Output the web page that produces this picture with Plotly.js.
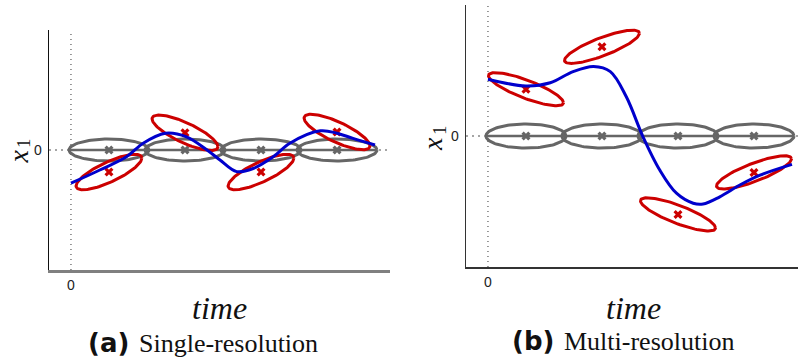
<!DOCTYPE html>
<html>
<head>
<meta charset="utf-8">
<script src="https://cdn.plot.ly/plotly-3.0.1.min.js"></script>
<style>
  html, body { margin: 0; padding: 0; background: #ffffff; }
  #chart { width: 799px; height: 361px; }
</style>
</head>
<body>
<div id="chart"></div>
<script>
// ---- (a) single-resolution model ----
const timeA = [0, 0.38, 0.73, 0.95, 1.24, 1.52, 1.79, 1.96, 2.18, 2.40, 2.66, 2.88, 3.28, 3.50, 3.71, 4.00];
const trajA = [-0.83, -0.50, -0.17, 0.17, 0.42, 0.33, 0.00, -0.25, -0.54, -0.46, -0.17, 0.17, 0.48, 0.42, 0.29, 0.125];

const muTimeA = [0.5, 1.5, 2.5, 3.5];
const priorMuA = [0, 0, 0, 0];
const priorSdTimeA = [0.526, 0.526, 0.526, 0.526];
const priorSdXA = [0.275, 0.275, 0.275, 0.275];
const postMuA = [-0.55, 0.43, -0.55, 0.45];
const postSdTimeA = [0.433, 0.433, 0.433, 0.433];
const postSdXA = [0.443, 0.443, 0.443, 0.443];
const postRhoA = [0.787, -0.787, 0.787, -0.787];

// ---- (b) multi-resolution model ----
const timeB = [0, 0.50, 0.82, 1.12, 1.39, 1.61, 1.82, 2.04, 2.26, 2.48, 2.70, 2.83, 3.05, 3.32, 3.58, 4.00];
const trajB = [1.42, 1.25, 1.33, 1.61, 1.74, 1.61, 0.98, -0.02, -0.85, -1.43, -1.68, -1.70, -1.52, -1.22, -0.98, -0.71];

const muTimeB = [0.5, 1.5, 2.5, 3.5];
const priorMuB = [0, 0, 0, 0];
const priorSdTimeB = [0.526, 0.526, 0.526, 0.526];
const priorSdXB = [0.30, 0.30, 0.30, 0.30];
const postMuB = [1.17, 2.23, -1.96, -0.91];
const postSdTimeB = [0.493, 0.493, 0.493, 0.493];
const postSdXB = [0.415, 0.415, 0.415, 0.415];
const postRhoB = [-0.815, 0.815, -0.815, 0.815];

// the single labelled tick on each axis
const tickVal = 0;
const tickLabel = '0';

const GRAY = '#666666';
const RED = '#cc0000';
const BLUE = '#0000cc';

// one-sigma contour of a 2-D Gaussian, traced through its Cholesky factor
function contour(mt, mx, st, sx, rho) {
  const t = [], x = [];
  const n = 120;
  for (let i = 0; i <= n; i++) {
    const a = 2 * Math.PI * i / n;
    const u = Math.cos(a), v = Math.sin(a);
    t.push(mt + st * u);
    x.push(mx + sx * (rho * u + Math.sqrt(1 - rho * rho) * v));
  }
  return { t, x };
}

function gaussianSet(mt, mx, st, sx, rho, color, xa, ya) {
  const t = [], x = [];
  mt.forEach((m, i) => {
    const c = contour(m, mx[i], st[i], sx[i], rho ? rho[i] : 0);
    t.push(...c.t, null);
    x.push(...c.x, null);
  });
  return {
    type: 'scatter', mode: 'lines', x: t, y: x, xaxis: xa, yaxis: ya,
    line: { color: color, width: 3 }, hoverinfo: 'skip', showlegend: false
  };
}

function majorAxes(mt, mx, st, color, xa, ya) {
  const t = [], x = [];
  mt.forEach((m, i) => { t.push(m - st[i], m + st[i], null); x.push(mx[i], mx[i], null); });
  return {
    type: 'scatter', mode: 'lines', x: t, y: x, xaxis: xa, yaxis: ya,
    line: { color: color, width: 2.6 }, hoverinfo: 'skip', showlegend: false
  };
}

function centres(mt, mx, color, xa, ya) {
  return {
    type: 'scatter', mode: 'markers', x: mt, y: mx, xaxis: xa, yaxis: ya,
    marker: { symbol: 'x', size: 8, color: color, line: { width: 0 } },
    hoverinfo: 'skip', showlegend: false
  };
}

function trajectory(t, x, xa, ya) {
  return {
    type: 'scatter', mode: 'lines', x: t, y: x, xaxis: xa, yaxis: ya,
    line: { color: BLUE, width: 3, shape: 'spline', smoothing: 1 },
    hoverinfo: 'skip', showlegend: false
  };
}

const data = [
  gaussianSet(muTimeA, priorMuA, priorSdTimeA, priorSdXA, null, GRAY, 'x', 'y'),
  majorAxes(muTimeA, priorMuA, priorSdTimeA, GRAY, 'x', 'y'),
  centres(muTimeA, priorMuA, GRAY, 'x', 'y'),
  gaussianSet(muTimeA, postMuA, postSdTimeA, postSdXA, postRhoA, RED, 'x', 'y'),
  centres(muTimeA, postMuA, RED, 'x', 'y'),
  trajectory(timeA, trajA, 'x', 'y'),

  gaussianSet(muTimeB, priorMuB, priorSdTimeB, priorSdXB, null, GRAY, 'x2', 'y2'),
  majorAxes(muTimeB, priorMuB, priorSdTimeB, GRAY, 'x2', 'y2'),
  centres(muTimeB, priorMuB, GRAY, 'x2', 'y2'),
  gaussianSet(muTimeB, postMuB, postSdTimeB, postSdXB, postRhoB, RED, 'x2', 'y2'),
  centres(muTimeB, postMuB, RED, 'x2', 'y2'),
  trajectory(timeB, trajB, 'x2', 'y2')
];

const W = 799, H = 361;
const px = v => v / W;
const py = v => 1 - v / H;

const tickFont = { family: 'Liberation Sans', size: 14, color: '#222' };

function axis(domain, range, anchor, lineColor, lineWidth) {
  return {
    domain, range, anchor, showgrid: false, zeroline: false,
    showline: true, linecolor: lineColor, linewidth: lineWidth,
    ticks: '', showticklabels: false, fixedrange: true
  };
}

// tick labels placed on the axes' own scales
function tickLabels(xa, ya) {
  return [
    { xref: xa, yref: ya + ' domain', x: tickVal, y: 0, text: tickLabel, showarrow: false,
      xanchor: 'center', yanchor: 'top', yshift: -5, font: tickFont },
    { xref: xa + ' domain', yref: ya, x: 0, y: tickVal, text: tickLabel, showarrow: false,
      xanchor: 'right', yanchor: 'middle', xshift: -5, font: tickFont }
  ];
}

function refLines(xa, ya) {
  return [
    { type: 'line', layer: 'below', xref: xa, yref: ya + ' domain', x0: tickVal, x1: tickVal, y0: 0, y1: 1,
      line: { color: '#333', width: 1, dash: '1px,4px' } },
    { type: 'line', layer: 'below', xref: xa + ' domain', yref: ya, x0: 0, x1: 1, y0: tickVal, y1: tickVal,
      line: { color: '#888', width: 1.3, dash: '2px,4px' } }
  ];
}

const serif = 'Liberation Serif';
const varFont = { family: serif, size: 28, color: '#111', style: 'italic' };
const subFont = { family: serif, size: 19, color: '#111' };
const timeFont = { family: serif, size: 32, color: '#111', style: 'italic' };
const capFont = { family: serif, size: 26, color: '#111' };
const capBold = { family: 'DejaVu Sans', size: 26, color: '#111', weight: 'bold' };

function label(x, y, text, font, anchor, angle) {
  return { xref: 'paper', yref: 'paper', x: px(x), y: py(y), text, showarrow: false,
           xanchor: anchor || 'center', yanchor: 'middle', textangle: angle || 0, font };
}

const layout = {
  width: W, height: H,
  margin: { l: 0, r: 0, t: 0, b: 0 },
  paper_bgcolor: '#ffffff', plot_bgcolor: '#ffffff',
  showlegend: false,
  xaxis: axis([px(49), px(390)], [-0.289, 4.197], 'y', '#808080', 2.5),
  yaxis: axis([py(270), py(30)], [-3, 3], 'x', '#111', 1.3),
  xaxis2: axis([px(466), px(798)], [-0.289, 4.079], 'y2', '#333', 1.5),
  yaxis2: axis([py(267), py(5)], [-3.275, 3.275], 'x2', '#333', 1.5),
  shapes: [...refLines('x', 'y'), ...refLines('x2', 'y2')],
  annotations: [
    ...tickLabels('x', 'y'),
    ...tickLabels('x2', 'y2'),
    // vertical axis titles: italic x with an upright subscript 1
    label(17.5, 157, 'x', varFont, 'center', -90),
    label(23, 143, '1', subFont, 'center', -90),
    label(432, 144, 'x', varFont, 'center', -90),
    label(439, 130, '1', subFont, 'center', -90),
    label(219, 308, 'time', timeFont),
    label(633, 308, 'time', timeFont),
    label(131, 343, '(a)', capBold, 'right'),
    label(137, 343, 'Single-resolution', capFont, 'left'),
    label(556, 341, '(b)', capBold, 'right'),
    label(562, 341, 'Multi-resolution', capFont, 'left')
  ]
};

Plotly.newPlot('chart', data, layout, { displayModeBar: false, staticPlot: true });
</script>
</body>
</html>
